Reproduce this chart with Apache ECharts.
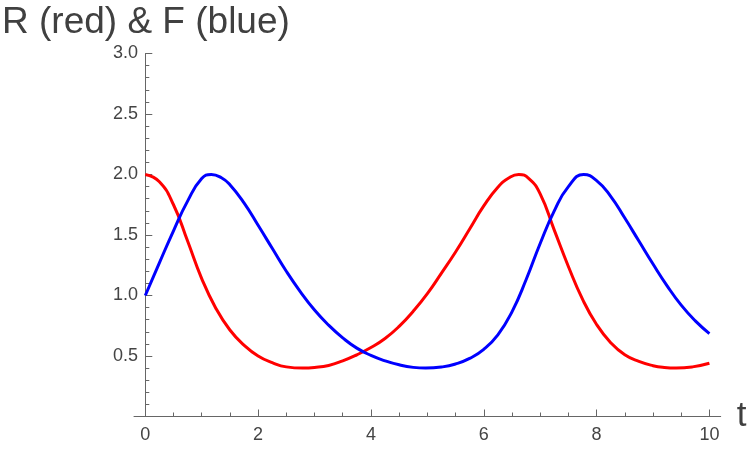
<!DOCTYPE html>
<html>
<head>
    <meta charset="UTF-8">
    <title>R (red) & F (blue)</title>
    <style>
        html, body {
            height: 100%;
            margin: 0;
            padding: 0;
            background: #fff;
        }
        #chart-container {
            width: 750px;
            height: 449px;
        }
    </style>
</head>
<body>
<div id="chart-container"></div>

<script src="https://cdn.jsdelivr.net/npm/echarts@6.0.0/dist/echarts.min.js"></script>
<script>
    // R (red): sample times (extra samples at the turning points) and values
    const tR = [
        0, 0.25, 0.5, 0.75, 1, 1.25, 1.5, 1.75, 2, 2.25,
        2.5, 2.79, 3, 3.25, 3.5, 3.75, 4, 4.25, 4.5, 4.75,
        5, 5.25, 5.5, 5.75, 6, 6.25, 6.45, 6.62, 6.8, 7,
        7.25, 7.5, 7.75, 8, 8.25, 8.5, 8.75, 9, 9.2, 9.41, 9.7, 10
    ];
    const rValues = [
        2.00, 1.94, 1.75, 1.45, 1.14, 0.895, 0.715, 0.59, 0.50, 0.445,
        0.41, 0.40, 0.405, 0.422, 0.46, 0.51, 0.57, 0.645, 0.745, 0.87,
        1.015, 1.185, 1.36, 1.55, 1.74, 1.895, 1.973, 2.00, 1.966, 1.84,
        1.54, 1.24, 0.97, 0.76, 0.61, 0.51, 0.455, 0.42, 0.405, 0.40, 0.41, 0.44
    ];
    // F (blue)
    const tF = [
        0, 0.25, 0.5, 0.75, 1, 1.17, 1.35, 1.5, 1.75, 2, 2.25,
        2.5, 2.75, 3, 3.25, 3.5, 3.75, 4, 4.25, 4.5, 4.75,
        4.97, 5.25, 5.5, 5.75, 6, 6.25, 6.5, 6.75, 7, 7.25,
        7.5, 7.77, 8, 8.25, 8.5, 8.75, 9, 9.25, 9.5, 9.75, 10
    ];
    const fValues = [
        1.00, 1.27, 1.535, 1.78, 1.966, 2.00, 1.973, 1.915, 1.765, 1.58, 1.39,
        1.20, 1.03, 0.88, 0.755, 0.65, 0.565, 0.505, 0.46, 0.427, 0.406,
        0.40, 0.409, 0.434, 0.48, 0.555, 0.675, 0.865, 1.13, 1.43, 1.70,
        1.90, 2.00, 1.95, 1.82, 1.64, 1.45, 1.26, 1.08, 0.92, 0.79, 0.685
    ];
    // tick positions on t axis
    const xMajorTicks = [0, 2, 4, 6, 8, 10];
    const xMinorTicks = [0.5, 1, 1.5, 2.5, 3, 3.5, 4.5, 5, 5.5, 6.5, 7, 7.5, 8.5, 9, 9.5];

    const axisColor = '#666666';
    const textColor = '#444444';
    const font = '"Liberation Sans", Arial, sans-serif';

    const chart = echarts.init(document.getElementById('chart-container'));

    const toPairs = function (ts, ys) {
        return ts.map(function (t, i) { return [t, ys[i]]; });
    };

    const option = {
        animation: false,
        title: {
            text: 'R (red) & F (blue)',
            left: 2,
            top: 4,
            padding: 0,
            textStyle: {
                fontFamily: font,
                fontSize: 37,
                fontWeight: 'normal',
                color: '#404040'
            }
        },
        grid: {
            left: 134,
            right: 29.3,
            top: 53.5,
            bottom: 32.5
        },
        xAxis: [{
            type: 'value',
            min: -0.2,
            max: 10.2,
            name: 't',
            nameLocation: 'end',
            nameGap: 16,
            nameTextStyle: {
                fontFamily: font,
                fontSize: 35,
                color: '#404040',
                verticalAlign: 'middle'
            },
            splitLine: { show: false },
            axisLine: { lineStyle: { color: axisColor, width: 1 } },
            axisTick: {
                inside: true,
                length: 7,
                customValues: xMajorTicks,
                lineStyle: { color: axisColor }
            },
            axisLabel: {
                customValues: xMajorTicks,
                margin: 10,
                fontFamily: font,
                fontSize: 18,
                color: textColor
            }
        }, {
            // minor ticks only
            type: 'value',
            min: -0.2,
            max: 10.2,
            position: 'bottom',
            splitLine: { show: false },
            axisLine: { show: false },
            axisLabel: { show: false },
            axisTick: {
                inside: true,
                length: 4,
                customValues: xMinorTicks,
                lineStyle: { color: axisColor }
            }
        }],
        yAxis: {
            type: 'value',
            min: 0,
            max: 3,
            interval: 0.5,
            splitLine: { show: false },
            axisLine: {
                show: true,
                onZero: true,
                onZeroAxisIndex: 0,
                lineStyle: { color: axisColor, width: 1 }
            },
            axisTick: {
                inside: true,
                length: 7,
                lineStyle: { color: axisColor }
            },
            minorTick: {
                show: true,
                splitNumber: 5,
                length: 4,
                lineStyle: { color: axisColor }
            },
            axisLabel: {
                showMinLabel: false,
                margin: -4,
                fontFamily: font,
                fontSize: 18,
                color: textColor,
                formatter: function (v) { return v.toFixed(1); }
            }
        },
        series: [{
            name: 'R',
            type: 'line',
            xAxisIndex: 0,
            data: toPairs(tR, rValues),
            smooth: 0.5,
            symbol: 'none',
            lineStyle: { color: '#ff0000', width: 3 },
            z: 3
        }, {
            name: 'F',
            type: 'line',
            xAxisIndex: 0,
            data: toPairs(tF, fValues),
            smooth: 0.5,
            symbol: 'none',
            lineStyle: { color: '#0000ff', width: 3 },
            z: 4
        }]
    };

    chart.setOption(option);
</script>
</body>
</html>
